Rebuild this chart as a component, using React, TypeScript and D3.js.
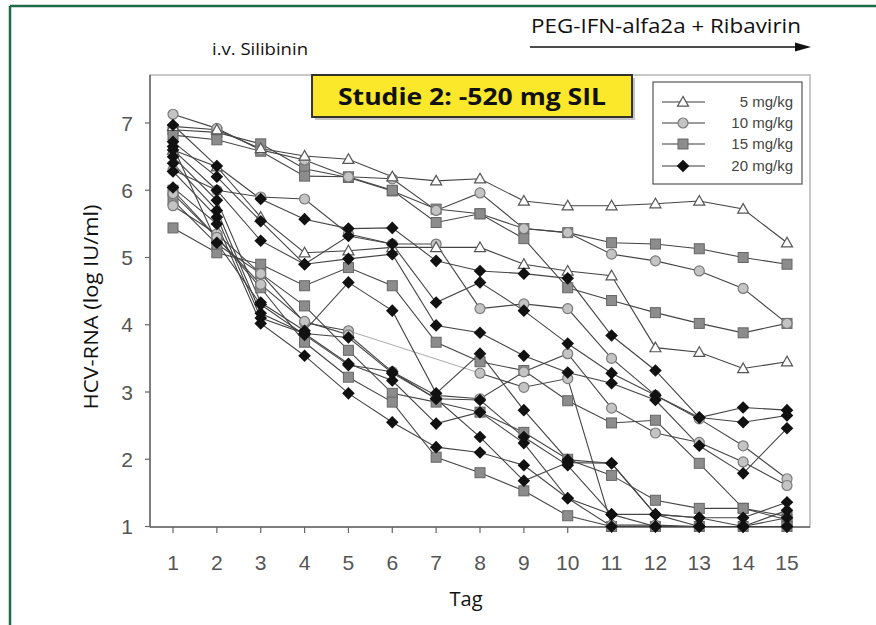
import React from "react";
import * as d3 from "d3";

const days = [1, 2, 3, 4, 5, 6, 7, 8, 9, 10, 11, 12, 13, 14, 15];
const yTicks = [1, 2, 3, 4, 5, 6, 7];

const legendLabels = ["5 mg/kg", "10 mg/kg", "15 mg/kg", "20 mg/kg"];

// 5 mg/kg (open triangles)
const dose5 = [
  [6.95, 6.9, 6.62, 6.51, 6.46, 6.2, 6.14, 6.17, 5.84, 5.77, 5.77, 5.8, 5.84, 5.72, 5.22],
  [6.6, 6.35, 5.6, 5.07, 5.1, 5.15, 5.15, 5.15, 4.9, 4.8, 4.73, 3.66, 3.59, 3.35, 3.45],
];
// 10 mg/kg (light grey circles)
const dose10 = [
  [7.13, 6.92, 6.6, 6.45, 6.2, 6.17, 5.7, 5.96, 5.43, 5.37, 5.05, 4.95, 4.8, 4.54, 4.02],
  [6.3, 6.0, 5.9, 5.87, 5.35, 5.2, 5.2, 4.24, 4.31, 4.24, 3.5, 2.95, 2.6, 2.2, 1.71],
  [5.77, 5.35, 4.76, 4.03, 3.91, null, null, 3.28, 3.07, 3.2, 1.02, 1.02, 1.0, 1.0, 1.0],
  [5.95, 5.3, 4.6, 4.05, 3.85, 3.3, 2.95, 2.9, 3.3, 3.57, 2.76, 2.39, 2.25, 1.96, 1.61],
];
// 15 mg/kg (grey squares)
const dose15 = [
  [6.9, 6.86, 6.69, 6.32, 6.19, 5.99, 5.72, 5.65, 5.43, 5.37, 5.22, 5.2, 5.13, 5.0, 4.9],
  [6.82, 6.75, 6.58, 6.21, 6.2, 6.0, 5.52, 5.65, 5.28, 4.55, 4.36, 4.18, 4.02, 3.88, 4.02],
  [5.44, 5.07, 4.9, 4.58, 4.85, 4.58, 3.74, 3.45, 3.32, 2.87, 2.54, 2.58, 1.94, 1.27, 1.15],
  [5.85, 5.2, 4.76, 4.28, 3.62, 2.98, 2.85, 2.7, 2.4, 2.0, 1.76, 1.39, 1.27, 1.27, 1.1],
  [6.0, 5.3, 4.55, 3.74, 3.22, 2.85, 2.03, 1.8, 1.53, 1.16, 1.0, 1.0, 1.0, 1.0, 1.0],
];
// 20 mg/kg (black diamonds)
const dose20 = [
  [6.97, 6.36, 5.87, 5.57, 5.43, 5.44, 4.95, 4.8, 4.76, 4.69, 3.84, 3.32, 2.62, 2.77, 2.73],
  [6.72, 6.2, 5.54, 4.9, 5.32, 5.2, 4.33, 4.63, 4.21, 3.72, 3.28, 2.95, 2.62, 2.55, 2.65],
  [6.6, 6.0, 5.25, 4.9, 4.98, 5.05, 3.99, 3.88, 3.54, 3.29, 3.13, 2.88, 2.2, 1.79, 2.46],
  [6.5, 5.85, 4.33, 3.91, 4.63, 4.21, 2.98, 3.57, 2.73, 1.99, 1.94, 1.18, 1.13, 1.13, 1.36],
  [6.4, 5.7, 4.17, 3.87, 3.81, 3.28, 2.9, 2.88, 2.33, 1.91, 1.18, 1.18, 1.0, 1.0, 1.24],
  [6.28, 5.6, 4.1, 3.87, 3.42, 3.17, 2.53, 2.7, 2.24, 1.42, 1.18, 1.0, 1.0, 1.0, 1.13],
  [6.04, 5.5, 4.02, 3.54, 2.98, 2.55, 2.18, 2.1, 1.91, 1.42, 1.0, 1.0, 1.0, 1.0, 1.0],
  [6.65, 5.22, 4.3, 3.85, 3.4, 3.3, 2.9, 2.33, 1.68, 1.95, 1.94, 1.18, 1.13, 1.0, 1.0],
];

const groups = [
  { key: "d15", data: dose15, shape: "square" },
  { key: "d10", data: dose10, shape: "circle" },
  { key: "d5", data: dose5, shape: "triangle" },
  { key: "d20", data: dose20, shape: "diamond" },
];

const x = d3.scaleLinear().domain([1, 15]).range([173, 787]);
const y = d3.scaleLinear().domain([1, 7]).range([526.5, 123]);

const narrow = "'Liberation Sans Narrow', 'Arial Narrow', 'Liberation Sans', Arial, sans-serif";

function Marker({ shape, cx, cy }: { shape: string; cx: number; cy: number }) {
  if (shape === "triangle") {
    const s = 5.5;
    return (
      <polygon
        points={`${cx},${cy - s} ${cx - s},${cy + s * 0.75} ${cx + s},${cy + s * 0.75}`}
        fill="#fff"
        stroke="#555"
        strokeWidth={1.2}
      />
    );
  }
  if (shape === "circle") {
    return <circle cx={cx} cy={cy} r={5} fill="#c4c4c4" stroke="#7a7a7a" strokeWidth={1.2} />;
  }
  if (shape === "square") {
    return <rect x={cx - 5} y={cy - 5} width={10} height={10} fill="#8c8c8c" stroke="#666" strokeWidth={1} />;
  }
  const s = 6.3;
  return (
    <polygon
      points={`${cx},${cy - s} ${cx + s},${cy} ${cx},${cy + s} ${cx - s},${cy}`}
      fill="#111"
    />
  );
}

export default function App() {
  const line = d3
    .line<number | null>()
    .defined((d) => d !== null)
    .x((_, i) => x(days[i]))
    .y((d) => y(d as number));

  const gapLine = d3
    .line<[number, number]>()
    .x((d) => x(d[0]))
    .y((d) => y(d[1]));

  const legendY = [102, 123, 144, 166];
  const legendShapes = ["triangle", "circle", "square", "diamond"];

  return (
    <svg
      width={876}
      height={625}
      style={{ position: "absolute", left: 0, top: 0, background: "#fff" }}
      fontFamily="'Liberation Sans', Arial, sans-serif"
    >
      <rect x={0} y={0} width={876} height={625} fill="#fff" />
      {/* green page border (top + left) */}
      <line x1={10} y1={6} x2={876} y2={6} stroke="#1d6b47" strokeWidth={2.5} />
      <line x1={10} y1={6} x2={10} y2={625} stroke="#1d6b47" strokeWidth={2.5} />

      {/* header texts */}
      <text x={212} y={55} fontSize={17} fontFamily="'Open Sans', sans-serif" fill="#111" textLength={96} lengthAdjust="spacingAndGlyphs">
        i.v. Silibinin
      </text>
      <text x={531} y={33} fontSize={20} fontFamily="'Open Sans', sans-serif" fill="#111" textLength={270} lengthAdjust="spacingAndGlyphs">
        PEG-IFN-alfa2a + Ribavirin
      </text>
      <line x1={530} y1={47} x2={797} y2={47} stroke="#111" strokeWidth={1.4} />
      <polygon points="811,47 795,42.5 795,51.5" fill="#111" />

      {/* plot frame */}
      <rect x={150} y={75} width={660} height={452} fill="none" stroke="#b5b5b5" strokeWidth={1.5} />
      <line x1={150} y1={75} x2={150} y2={527} stroke="#666" strokeWidth={1.5} />
      <line x1={150} y1={527} x2={810} y2={527} stroke="#666" strokeWidth={1.5} />

      {/* y ticks */}
      {yTicks.map((t) => (
        <g key={"y" + t}>
          <line x1={145} x2={150} y1={y(t)} y2={y(t)} stroke="#666" strokeWidth={1.2} />
          <text x={133} y={y(t) + 7.5} fontSize={21} fontFamily={narrow} textAnchor="end" fill="#555">
            {t}
          </text>
        </g>
      ))}
      {/* x ticks */}
      {days.map((d) => (
        <g key={"x" + d}>
          <line x1={x(d)} x2={x(d)} y1={527} y2={533} stroke="#666" strokeWidth={1.2} />
          <text x={x(d)} y={570} fontSize={21} fontFamily={narrow} textAnchor="middle" fill="#555">
            {d}
          </text>
        </g>
      ))}

      <text x={466} y={606} fontSize={20} fontFamily="'Open Sans', sans-serif" textAnchor="middle" fill="#111">
        Tag
      </text>
      <text
        transform="translate(98,307) rotate(-90)"
        fontSize={20}
        fontFamily="'Open Sans', sans-serif"
        textAnchor="middle"
        fill="#111"
        textLength={205}
        lengthAdjust="spacingAndGlyphs"
      >
        HCV-RNA (log IU/ml)
      </text>

      {/* lines */}
      {groups.map((g) =>
        g.data.map((s, i) => {
          const gaps: [number, number][][] = [];
          for (let k = 0; k < s.length - 1; k++) {
            if (s[k] !== null && s[k + 1] === null) {
              let j = k + 1;
              while (j < s.length && s[j] === null) j++;
              if (j < s.length) gaps.push([[days[k], s[k] as number], [days[j], s[j] as number]]);
            }
          }
          return (
            <g key={g.key + "l" + i}>
              {gaps.map((gp, gi) => (
                <path key={gi} d={gapLine(gp) || ""} fill="none" stroke="#aaa" strokeWidth={1} />
              ))}
              <path d={line(s) || ""} fill="none" stroke="#444" strokeWidth={1.1} />
            </g>
          );
        })
      )}

      {/* markers */}
      {groups.map((g) =>
        g.data.map((s, i) =>
          s.map((v, k) =>
            v === null ? null : (
              <Marker key={g.key + i + "-" + k} shape={g.shape} cx={x(days[k])} cy={y(v)} />
            )
          )
        )
      )}

      {/* yellow title box */}
      <rect x={313} y={76} width={320} height={42} fill="#555" opacity={0.35} transform="translate(2,2)" />
      <rect x={312} y={75} width={320} height={42} fill="#fbe82a" stroke="#222" strokeWidth={1.8} />
      <text
        x={472}
        y={105}
        fontSize={24}
        fontWeight="bold"
        fontFamily="'Open Sans', sans-serif"
        textAnchor="middle"
        fill="#111"
        textLength={268}
        lengthAdjust="spacingAndGlyphs"
      >
        Studie 2: -520 mg SIL
      </text>

      {/* legend */}
      <rect x={653} y={82} width={149} height={102} fill="#fff" stroke="#555" strokeWidth={1.2} />
      {legendLabels.map((lab, i) => (
        <g key={lab}>
          <line x1={662} x2={705} y1={legendY[i]} y2={legendY[i]} stroke="#3a3a3a" strokeWidth={1.2} />
          <Marker shape={legendShapes[i]} cx={683} cy={legendY[i]} />
          <text x={793} y={legendY[i] + 5} fontSize={15} fontFamily={narrow} textAnchor="end" fill="#444">
            {lab}
          </text>
        </g>
      ))}
    </svg>
  );
}
